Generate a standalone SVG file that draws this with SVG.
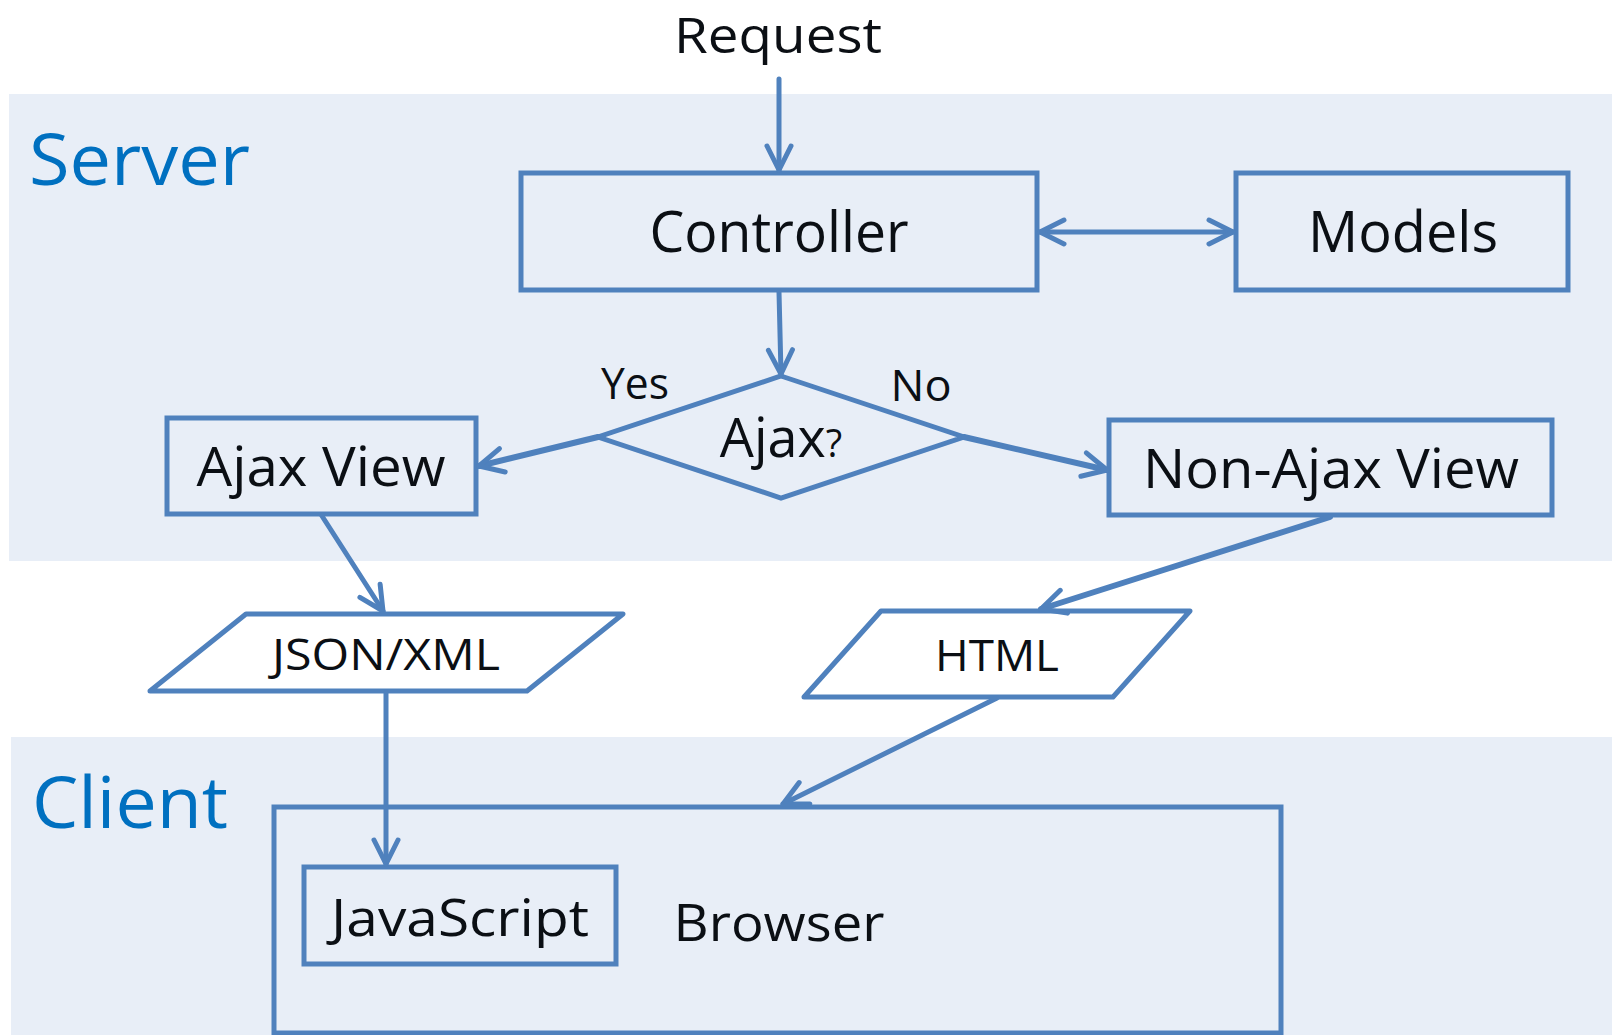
<svg xmlns="http://www.w3.org/2000/svg" width="1612" height="1035" viewBox="0 0 1612 1035">
<style>
.panel{fill:#E8EEF7;stroke:none}
.box{fill:none;stroke:#4F81BD;stroke-width:5;stroke-linejoin:miter}
.para{fill:#FFFFFF;stroke:#4F81BD;stroke-width:5;stroke-linejoin:round}
.conn{fill:none;stroke:#4F81BD;stroke-width:5;stroke-linecap:round}
.thick{stroke-width:6}
.t{font-family:"Open Sans","Noto Sans","Liberation Sans",sans-serif;fill:#0B0F14;text-anchor:middle}
.zone{font-family:"Open Sans","Noto Sans","Liberation Sans",sans-serif;fill:#0070C0;font-size:72px}
</style>
<defs>
<marker id="arr" viewBox="0 0 30 30" refX="27" refY="15" markerWidth="30" markerHeight="30" markerUnits="userSpaceOnUse" orient="auto-start-reverse">
<path d="M3,3 L27,15 L3,27" fill="none" stroke="#4F81BD" stroke-width="5" stroke-linecap="round" stroke-linejoin="round"/>
</marker>
</defs>
<rect width="1612" height="1035" fill="#FFFFFF"/>
<g id="server-zone">
<rect class="panel" x="9" y="94" width="1603" height="467"/>
<text class="zone" x="29" y="185" textLength="221" lengthAdjust="spacingAndGlyphs">Server</text>
</g>
<g id="client-zone">
<rect class="panel" x="11" y="737" width="1601" height="298"/>
<text class="zone" x="32" y="828" textLength="196" lengthAdjust="spacingAndGlyphs">Client</text>
</g>
<g id="request-label">
<text class="t" x="778" y="53" font-size="50" textLength="208" lengthAdjust="spacingAndGlyphs">Request</text>
</g>
<g id="controller">
<rect class="box" x="521" y="173" width="516" height="117"/>
<text class="t" x="779" y="252" font-size="56" textLength="259" lengthAdjust="spacingAndGlyphs">Controller</text>
</g>
<g id="models">
<rect class="box" x="1236" y="173" width="332" height="117"/>
<text class="t" x="1403" y="252" font-size="56" textLength="190" lengthAdjust="spacingAndGlyphs">Models</text>
</g>
<g id="decision">
<polygon class="box" points="781,376 964,437 781,498 598,437"/>
<text class="t" x="781" y="457" font-size="54"><tspan textLength="106" lengthAdjust="spacingAndGlyphs">Ajax</tspan><tspan font-size="38">?</tspan></text>
</g>
<g id="yes-label"><text class="t" x="635" y="399" font-size="44" textLength="68" lengthAdjust="spacingAndGlyphs">Yes</text></g>
<g id="no-label"><text class="t" x="921" y="401" font-size="44" textLength="61" lengthAdjust="spacingAndGlyphs">No</text></g>
<g id="ajax-view">
<rect class="box" x="167" y="418" width="309" height="96"/>
<text class="t" x="321" y="486" font-size="55" textLength="249" lengthAdjust="spacingAndGlyphs">Ajax View</text>
</g>
<g id="non-ajax-view">
<rect class="box" x="1109" y="420" width="443" height="95"/>
<text class="t" x="1331" y="488" font-size="55" textLength="376" lengthAdjust="spacingAndGlyphs">Non-Ajax View</text>
</g>
<g id="json-xml">
<polygon class="para" points="246,614 623,614 527,691 150,691"/>
<text class="t" x="386" y="670" font-size="44" textLength="228" lengthAdjust="spacingAndGlyphs">JSON/XML</text>
</g>
<g id="html">
<polygon class="para" points="881,611 1190,611 1113,697 804,697"/>
<text class="t" x="997" y="671" font-size="44" textLength="124" lengthAdjust="spacingAndGlyphs">HTML</text>
</g>
<g id="browser">
<rect class="box" x="274" y="807" width="1007" height="226"/>
<text class="t" x="779" y="941" font-size="52" textLength="211" lengthAdjust="spacingAndGlyphs">Browser</text>
</g>
<g id="javascript">
<rect class="box" x="304" y="867" width="312" height="97"/>
<text class="t" x="460" y="936" font-size="52" textLength="258" lengthAdjust="spacingAndGlyphs">JavaScript</text>
</g>
<g id="connectors">
<line class="conn" x1="779" y1="79" x2="779" y2="170" marker-end="url(#arr)"/>
<line class="conn" x1="1040" y1="232" x2="1233" y2="232" marker-start="url(#arr)" marker-end="url(#arr)"/>
<line class="conn" x1="779" y1="292" x2="781" y2="374" marker-end="url(#arr)"/>
<line class="conn thick" x1="598" y1="437" x2="479" y2="466" marker-end="url(#arr)"/>
<line class="conn thick" x1="964" y1="437" x2="1107" y2="470" marker-end="url(#arr)"/>
<line class="conn" x1="322" y1="516" x2="383" y2="611" marker-end="url(#arr)"/>
<line class="conn thick" x1="1330" y1="517" x2="1041" y2="609" marker-end="url(#arr)"/>
<line class="conn" x1="386" y1="693" x2="386" y2="864" marker-end="url(#arr)"/>
<line class="conn" x1="997" y1="698" x2="783" y2="804" marker-end="url(#arr)"/>
</g>
</svg>
